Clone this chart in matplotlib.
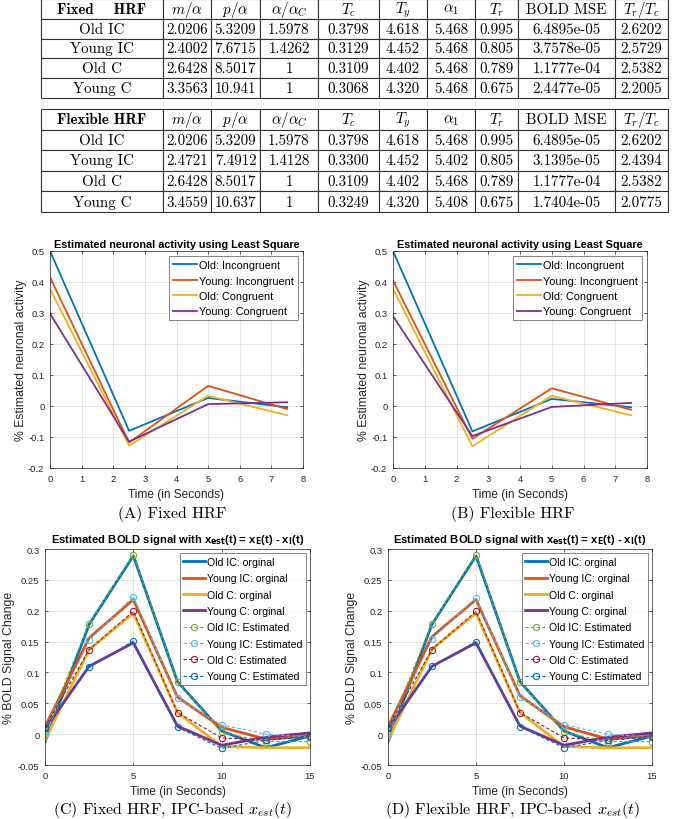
import matplotlib

matplotlib.use("Agg")

import matplotlib.pyplot as plt
import numpy as np

plt.rcParams["font.family"] = ["Liberation Sans", "DejaVu Sans"]
plt.rcParams["mathtext.fontset"] = "cm"

# ---- table data ----
table_cols = [r"$m/\alpha$", r"$p/\alpha$", r"$\alpha/\alpha_C$", r"$T_c$", r"$T_y$",
              r"$\alpha_1$", r"$T_r$", "BOLD MSE", r"$T_r/T_c$"]
row_names = ["Old IC", "Young IC", "Old C", "Young C"]
fixed_rows = [
    ["2.0206", "5.3209", "1.5978", "0.3798", "4.618", "5.468", "0.995", "6.4895e-05", "2.6202"],
    ["2.4002", "7.6715", "1.4262", "0.3129", "4.452", "5.468", "0.805", "3.7578e-05", "2.5729"],
    ["2.6428", "8.5017", "1", "0.3109", "4.402", "5.468", "0.789", "1.1777e-04", "2.5382"],
    ["3.3563", "10.941", "1", "0.3068", "4.320", "5.468", "0.675", "2.4477e-05", "2.2005"],
]
flexible_rows = [
    ["2.0206", "5.3209", "1.5978", "0.3798", "4.618", "5.468", "0.995", "6.4895e-05", "2.6202"],
    ["2.4721", "7.4912", "1.4128", "0.3300", "4.452", "5.402", "0.805", "3.1395e-05", "2.4394"],
    ["2.6428", "8.5017", "1", "0.3109", "4.402", "5.468", "0.789", "1.1777e-04", "2.5382"],
    ["3.4559", "10.637", "1", "0.3249", "4.320", "5.408", "0.675", "1.7404e-05", "2.0775"],
]

# ---- neuronal activity (least squares) ----
t_neuro = [0, 2.5, 5, 7.5]
neuro_labels = ["Old: Incongruent", "Young: Incongruent", "Old: Congruent", "Young: Congruent"]
neuro_fixed = [
    [0.50, -0.080, 0.026, -0.004],
    [0.415, -0.118, 0.065, -0.010],
    [0.378, -0.128, 0.033, -0.030],
    [0.298, -0.115, 0.006, 0.012],
]
neuro_flex = [
    [0.50, -0.082, 0.023, -0.004],
    [0.405, -0.106, 0.057, -0.012],
    [0.378, -0.130, 0.033, -0.030],
    [0.290, -0.097, -0.003, 0.010],
]

# ---- BOLD signals ----
t_bold = [0, 2.5, 5, 7.5, 10, 12.5, 15]
orig_labels = ["Old IC: orginal", "Young IC: orginal", "Old C: orginal", "Young C: orginal"]
est_labels = ["Old IC: Estimated", "Young IC: Estimated", "Old C: Estimated", "Young C: Estimated"]
bold_orig_fixed = [
    [-0.013, 0.178, 0.289, 0.085, 0.005, -0.022, -0.003],
    [0.012, 0.156, 0.218, 0.060, 0.011, -0.008, -0.003],
    [-0.010, 0.137, 0.196, 0.035, -0.020, -0.022, -0.022],
    [0.008, 0.110, 0.148, 0.013, -0.018, -0.005, 0.002],
]
bold_est_fixed = [
    [0.005, 0.179, 0.291, 0.085, 0.003, -0.012, -0.012],
    [0.000, 0.152, 0.223, 0.058, 0.015, 0.000, -0.005],
    [0.010, 0.137, 0.199, 0.035, -0.006, -0.010, -0.003],
    [0.012, 0.108, 0.151, 0.011, -0.023, -0.010, -0.004],
]
bold_orig_flex = [
    [-0.013, 0.178, 0.289, 0.085, 0.005, -0.022, -0.003],
    [0.012, 0.158, 0.218, 0.062, 0.012, -0.008, -0.003],
    [-0.010, 0.138, 0.196, 0.035, -0.020, -0.022, -0.022],
    [0.008, 0.110, 0.148, 0.013, -0.018, -0.005, 0.002],
]
bold_est_flex = [
    [0.005, 0.179, 0.291, 0.085, 0.003, -0.012, -0.012],
    [0.000, 0.154, 0.221, 0.060, 0.015, 0.000, -0.005],
    [0.010, 0.137, 0.199, 0.035, -0.006, -0.010, -0.003],
    [0.012, 0.110, 0.150, 0.012, -0.022, -0.010, -0.004],
]

neuro_yticks = [-0.2, -0.1, 0, 0.1, 0.2, 0.3, 0.4, 0.5]
neuro_yticklabels = ["-0.2", "-0.1", "0", "0.1", "0.2", "0.3", "0.4", "0.5"]
neuro_xticks = [0, 1, 2, 3, 4, 5, 6, 7, 8]
bold_yticks = [-0.05, 0, 0.05, 0.1, 0.15, 0.2, 0.25, 0.3]
bold_yticklabels = ["-0.05", "0", "0.05", "0.1", "0.15", "0.2", "0.25", "0.3"]
bold_xticks = [0, 5, 10, 15]

line_colors = ["#0072BD", "#D95319", "#EDB120", "#7E2F8E"]
est_colors = ["#77AC30", "#4DBEEE", "#A2142F", "#0072BD"]
ink = "#262626"

W, H = 685, 820
fig = plt.figure(figsize=(W / 100, H / 100), dpi=100)


def rect(left, right, top, bottom):
    return [left / W, 1 - bottom / H, (right - left) / W, (bottom - top) / H]


def draw_table(box, title, rows):
    ax = fig.add_axes(box)
    ax.axis("off")
    cells = [[name] + vals for name, vals in zip(row_names, rows)]
    widths = np.array([122, 48, 49, 58, 61, 48, 48, 43, 97, 53], dtype=float)
    tbl = ax.table(cellText=cells, colLabels=[title] + table_cols,
                   colWidths=list(widths / widths.sum()), cellLoc="center",
                   bbox=[0, 0, 1, 1])
    tbl.auto_set_font_size(False)
    for (r, c), cell in tbl.get_celld().items():
        cell.set_linewidth(0.8)
        cell.set_edgecolor("#333333")
        txt = cell.get_text()
        txt.set_fontsize(10.8)
        txt.set_fontfamily("cmb10" if (r == 0 and c == 0) else "cmr10")
        txt.set_math_fontfamily("cm")


def style_axes(ax):
    ax.grid(True, color="#e0e0e0", linewidth=0.6)
    ax.set_axisbelow(True)
    ax.tick_params(direction="in", top=True, right=True, labelsize=6.8,
                   colors=ink, length=2.5, width=0.5, pad=4)
    for sp in ax.spines.values():
        sp.set_color(ink)
        sp.set_linewidth(0.5)


def draw_neuro(box, data, caption, cap_x):
    ax = fig.add_axes(box)
    for vals, lab, col in zip(data, neuro_labels, line_colors):
        ax.plot(t_neuro, vals, color=col, linewidth=1.3, label=lab)
    ax.set_xlim(0, 8)
    ax.set_ylim(-0.2, 0.5)
    ax.set_xticks(neuro_xticks)
    ax.set_yticks(neuro_yticks)
    ax.set_yticklabels(neuro_yticklabels)
    style_axes(ax)
    ax.set_title("Estimated neuronal activity using Least Square", fontsize=7.8,
                 fontweight="bold", color="black", pad=3)
    ax.set_xlabel("Time (in Seconds)", fontsize=8.6, color=ink, labelpad=4)
    ax.set_ylabel("% Estimated neuronal activity", fontsize=8.8, color=ink, labelpad=1)
    leg = ax.legend(loc="upper right", fontsize=7.8, frameon=True, fancybox=False,
                    handlelength=2.2, handletextpad=0.2, borderpad=0.35,
                    labelspacing=0.5, borderaxespad=0.5)
    leg.get_frame().set_edgecolor(ink)
    leg.get_frame().set_linewidth(0.5)
    fig.text(cap_x / W, 1 - 514 / H, caption, ha="center", va="center",
             fontsize=11.5, fontfamily="cmr10")


def draw_bold(box, orig, est, caption, cap_x):
    ax = fig.add_axes(box)
    for vals, lab, col in zip(orig, orig_labels, line_colors):
        ax.plot(t_bold, vals, color=col, linewidth=2.0, label=lab)
    for vals, lab, col in zip(est, est_labels, est_colors):
        ax.plot(t_bold, vals, color=col, linewidth=0.8, linestyle=(0, (3, 2)),
                marker="o", markersize=4.5, markerfacecolor="none",
                markeredgewidth=0.8, label=lab)
    ax.set_xlim(0, 15)
    ax.set_ylim(-0.05, 0.3)
    ax.set_xticks(bold_xticks)
    ax.set_yticks(bold_yticks)
    ax.set_yticklabels(bold_yticklabels)
    style_axes(ax)
    ax.set_title(r"Estimated BOLD signal with x$_{\mathbf{est}}$(t) = x$_{\mathbf{E}}$(t) - x$_{\mathbf{I}}$(t)",
                 fontsize=8.1, fontweight="bold", color="black", pad=5,
                 math_fontfamily="dejavusans")
    ax.set_xlabel("Time (in Seconds)", fontsize=8.6, color=ink, labelpad=4)
    ax.set_ylabel("% BOLD Signal Change", fontsize=8.8, color=ink, labelpad=2)
    leg = ax.legend(loc="upper right", fontsize=7.6, frameon=True, fancybox=False,
                    handlelength=2.0, handletextpad=0.2, borderpad=0.35,
                    labelspacing=0.6, borderaxespad=0.4)
    leg.get_frame().set_edgecolor(ink)
    leg.get_frame().set_linewidth(0.5)
    fig.text(cap_x / W, 1 - 810 / H, caption, ha="center", va="center",
             fontsize=11.5, fontfamily="cmr10", math_fontfamily="cm")


draw_table(rect(41, 668, 0, 99), "Fixed    HRF", fixed_rows)
draw_table(rect(41, 668, 110, 213), "Flexible HRF", flexible_rows)

draw_neuro(rect(50, 303, 252, 469), neuro_fixed, "(A) Fixed HRF", 172)
draw_neuro(rect(393, 647, 252, 469), neuro_flex, "(B) Flexible HRF", 513)

draw_bold(rect(45, 310, 550, 766), bold_orig_fixed, bold_est_fixed,
          r"(C) Fixed HRF, IPC-based $x_{est}(t)$", 172)
draw_bold(rect(388, 652, 550, 766), bold_orig_flex, bold_est_flex,
          r"(D) Flexible HRF, IPC-based $x_{est}(t)$", 513)

fig.savefig("out.png", dpi=100)
